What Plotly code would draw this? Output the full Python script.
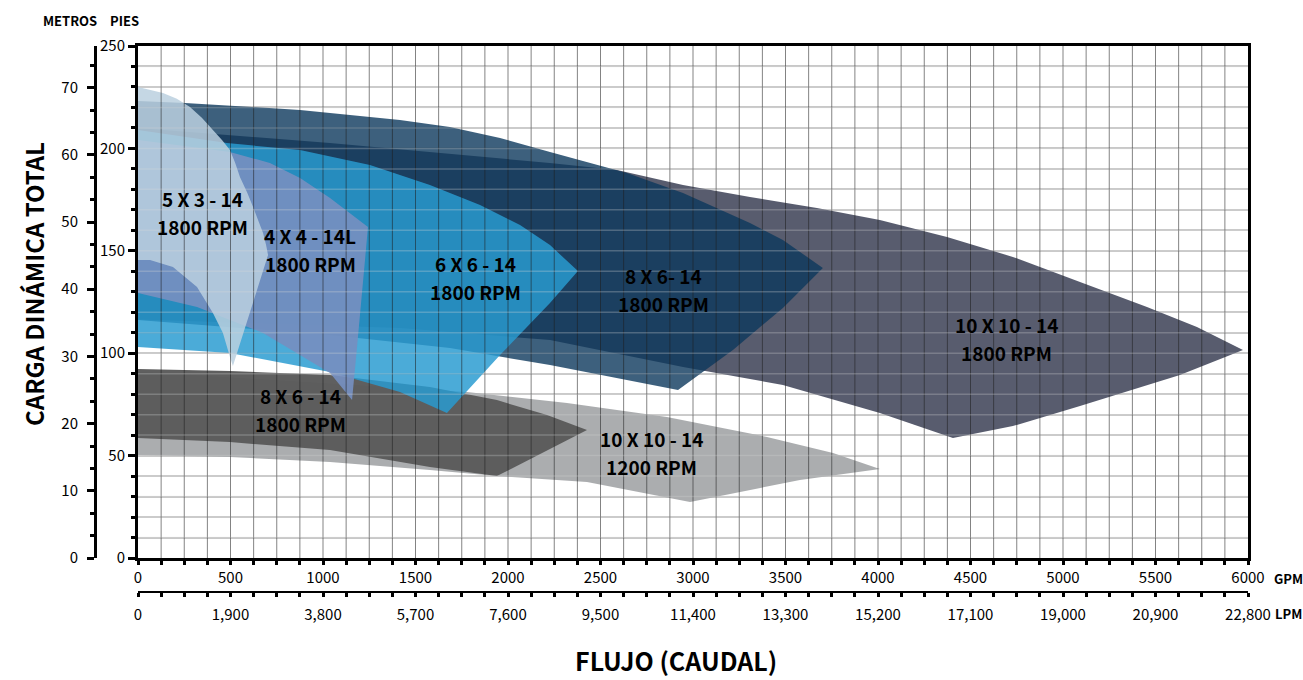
import plotly.graph_objects as go

W, H = 1303, 680
FONT = "Noto Sans CJK JP, Noto Sans CJK SC, Roboto, Liberation Sans, sans-serif"

# ---------------- data (GPM, feet) ----------------
gray1200_x = [0, 1778, 2319, 2859, 3400, 3757, 4010, 3578, 2984, 2427, 1940, 1578, 1038, 497, 0]
gray1200_y = [91.0, 81.1, 75.7, 68.8, 59.1, 51.3, 43.5, 38.1, 27.3, 37.1, 40.0, 43.0, 46.9, 49.3, 50.3]

gray86_x = [0, 497, 1038, 1578, 1940, 2211, 2427, 1940, 1578, 1038, 497, 0]
gray86_y = [92.3, 91.3, 89.4, 83.5, 77.1, 69.8, 62.5, 40.0, 44.4, 52.7, 56.6, 58.6]

slate_x = [0, 1038, 2227, 2589, 2946, 3308, 3670, 4010, 4373, 4729, 5092, 5454, 5724, 5973,
           5632, 5092, 4729, 4405, 4010, 3486, 2946, 2227, 1416, 0]
slate_y = [210.0, 202.6, 192.9, 189.5, 182.1, 176.3, 170.9, 165.0, 156.7, 147.0, 134.8, 122.6, 112.8, 101.6,
           89.4, 74.2, 64.4, 58.6, 70.8, 84.5, 93.3, 106.4, 112.3, 116.5]

navy_x = [0, 254, 876, 1416, 1686, 1957, 2227, 2643, 2946, 3308, 3486, 3702,
          3486, 3216, 2919, 2497, 2227, 1686, 1038, 0]
navy_y = [223.1, 222.2, 218.8, 213.9, 210.4, 205.1, 198.2, 188.0, 178.2, 163.6, 155.3, 141.6,
          122.1, 101.6, 82.0, 89.4, 94.2, 102.5, 108.9, 116.2]

b66_x = [0, 481, 876, 1254, 1578, 1849, 2065, 2227, 2378, 2227, 1957, 1670, 1416, 1038, 497, 0]
b66_y = [209.0, 202.6, 199.2, 191.9, 182.1, 172.4, 162.6, 152.8, 140.1, 124.5, 99.1, 70.8, 81.1, 90.8, 100.1, 103.0]

b44_x = [0, 497, 713, 876, 1038, 1243, 1227, 1200, 1184, 1157, 1038, 676, 319, 0]
b44_y = [204.1, 198.2, 192.9, 185.6, 175.8, 161.6, 145.5, 121.1, 103.0, 77.1, 90.3, 109.9, 122.6, 129.4]

b53_x = [0, 135, 210, 281, 345, 405, 455, 497, 525, 551, 590, 622, 652, 676, 692, 703,
         513, 497, 459, 405, 319, 189, 65, 0]
b53_y = [230.0, 227.1, 224.3, 220.2, 215.0, 209.0, 204.0, 199.2, 193.0, 186.0, 178.5, 171.4, 164.8, 158.7, 153.0, 147.9,
         93.7, 98.1, 109.9, 119.6, 132.3, 142.1, 145.5, 145.5]

label_line1 = ["5 X 3 - 14", "4 X 4 - 14L", "6 X 6 - 14", "8 X 6- 14", "10 X 10 - 14", "8 X 6 - 14", "10 X 10 - 14"]
label_line2 = ["1800 RPM", "1800 RPM", "1800 RPM", "1800 RPM", "1800 RPM", "1800 RPM", "1200 RPM"]
label_x = [351, 930, 1822, 2838, 4697, 881, 2778]
label_y = [168.5, 150.4, 137.2, 130.9, 107.4, 72.3, 51.3]

GPM_MAX = 6000
FT_MAX = 250
LPM_MAX = 22800
M_MAX = 76.2

# ---------------- figure ----------------
fig = go.Figure()

shapes_def = [
    (gray1200_x, gray1200_y, "rgba(168,170,172,0.97)"),
    (gray86_x, gray86_y, "rgba(90,90,90,0.97)"),
    (slate_x, slate_y, "rgba(83,87,105,0.97)"),
    (navy_x, navy_y, "rgba(13,56,92,0.80)"),
    (b66_x, b66_y, "rgba(40,155,208,0.84)"),
    (b44_x, b44_y, "rgba(117,143,191,0.93)"),
    (b53_x, b53_y, "rgba(187,208,223,0.85)"),
]
for xs, ys, col in shapes_def:
    fig.add_trace(go.Scatter(x=xs, y=ys, fill="toself", fillcolor=col, mode="lines",
                             line=dict(width=0, color="rgba(0,0,0,0)"),
                             hoverinfo="skip", showlegend=False))

# carriers so the secondary axes (LPM and METROS) are drawn
fig.add_trace(go.Scatter(x=[0, LPM_MAX], y=[None, None], xaxis="x2", yaxis="y", mode="lines",
                         hoverinfo="skip", showlegend=False))
fig.add_trace(go.Scatter(x=[None, None], y=[0, M_MAX], xaxis="x", yaxis="y2", mode="lines",
                         hoverinfo="skip", showlegend=False))

lab_font = dict(family=FONT, size=19, color="black")
for t1, t2, x, y in zip(label_line1, label_line2, label_x, label_y):
    fig.add_annotation(x=x, y=y, xref="x", yref="y", text="<b>" + t1 + "</b>", showarrow=False,
                       font=lab_font, xanchor="center", yanchor="middle", yshift=14)
    fig.add_annotation(x=x, y=y, xref="x", yref="y", text="<b>" + t2 + "</b>", showarrow=False,
                       font=lab_font, xanchor="center", yanchor="middle", yshift=-14)

# grid overlay (drawn above the filled areas, like the reference)
for g in range(125, GPM_MAX, 125):
    fig.add_shape(type="line", xref="x", yref="y", x0=g, x1=g, y0=0, y1=FT_MAX,
                  line=dict(color="rgba(30,30,30,0.55)", width=1), layer="above")
for g in range(10, FT_MAX, 10):
    fig.add_shape(type="line", xref="x", yref="y", x0=0, x1=GPM_MAX, y0=g, y1=g,
                  line=dict(color="rgba(215,215,215,0.28)", width=1.5), layer="above")

xd = [138 / W, 1248 / W]
yd = [(H - 558) / H, (H - 46) / H]
tickfont = dict(family=FONT, size=15, color="black")

fig.update_layout(
    width=W, height=H,
    margin=dict(l=0, r=0, t=0, b=0),
    paper_bgcolor="white", plot_bgcolor="white",
    showlegend=False,
    xaxis=dict(domain=xd, range=[0, GPM_MAX], showline=True, linecolor="black", linewidth=3,
               mirror=True, ticks="outside", ticklen=4, tickwidth=3, tickcolor="black",
               dtick=500, tick0=0, showgrid=False, zeroline=False, tickfont=tickfont,
               minor=dict(dtick=125, ticks="outside", ticklen=4, tickwidth=3, tickcolor="black", showgrid=False),
               automargin=False, fixedrange=True),
    yaxis=dict(domain=yd, range=[0, FT_MAX], showline=True, linecolor="black", linewidth=3,
               mirror=True, ticks="outside", ticklen=7, tickwidth=3, tickcolor="black",
               dtick=50, tick0=0, showgrid=True, gridcolor="#c8c8c8", gridwidth=1.5,
               zeroline=False, tickfont=tickfont,
               minor=dict(dtick=10, ticks="outside", ticklen=4, tickwidth=3, tickcolor="black",
                          showgrid=True, gridcolor="#c8c8c8", gridwidth=1.5),
               automargin=False, fixedrange=True),
    xaxis2=dict(overlaying="x", anchor="free", position=(H - 592) / H, side="bottom",
                range=[0, LPM_MAX], showline=True, linecolor="black", linewidth=2,
                ticks="outside", ticklen=4, tickwidth=3, tickcolor="black",
                dtick=1900, tick0=0, tickformat=",d", showgrid=False, zeroline=False,
                tickfont=tickfont, ticklabelstandoff=5,
                minor=dict(dtick=475, ticks="outside", ticklen=4, tickwidth=3, tickcolor="black", showgrid=False),
                automargin=False, fixedrange=True),
    yaxis2=dict(overlaying="y", anchor="free", position=95 / W, side="left",
                range=[0, M_MAX], showline=True, linecolor="black", linewidth=3,
                ticks="outside", ticklen=7, tickwidth=3, tickcolor="black",
                dtick=10, tick0=0, showgrid=False, zeroline=False, tickfont=tickfont,
                ticklabelstandoff=6,
                minor=dict(dtick=10 / 3, ticks="outside", ticklen=4, tickwidth=3, tickcolor="black", showgrid=False),
                automargin=False, fixedrange=True),
)

def pann(text, px, py, size, angle=0):
    fig.add_annotation(x=px / W, y=1 - py / H, xref="paper", yref="paper", text="<b>" + text + "</b>",
                       showarrow=False, textangle=angle, xanchor="center", yanchor="middle",
                       font=dict(family=FONT, size=size, color="black"))

pann("METROS", 70, 20, 13)
pann("PIES", 124, 20, 13)
pann("CARGA DINÁMICA TOTAL", 33, 284, 24, angle=-90)
pann("FLUJO (CAUDAL)", 676, 660, 25)
pann("GPM", 1288, 578, 13)
pann("LPM", 1288, 613, 13)

fig.write_html("out.html", config={"displayModeBar": False},
               post_script="document.body.style.margin='0px';")
